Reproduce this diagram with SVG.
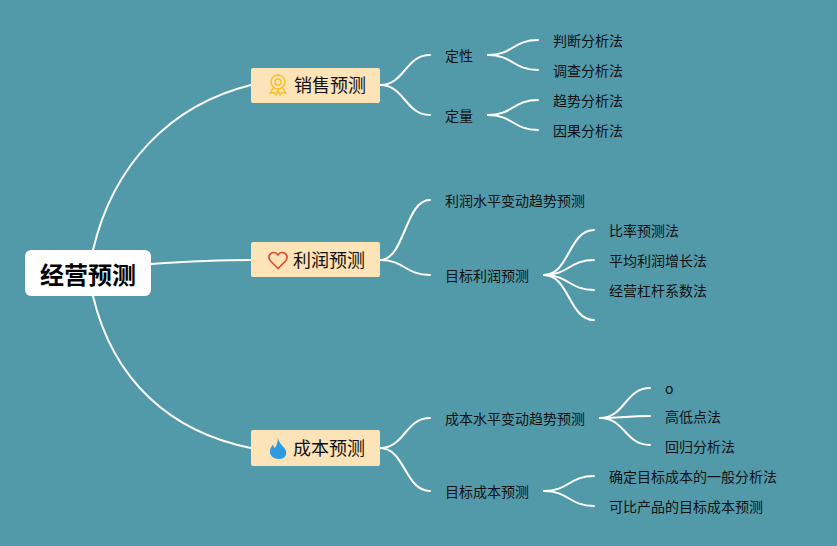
<svg xmlns="http://www.w3.org/2000/svg" width="837" height="546" viewBox="0 0 837 546">
<style>
.c{fill:none;stroke:#fff;stroke-linecap:round}
.m{stroke-width:2}
.s{stroke-width:2}
.b{fill:#fde3b8;stroke:none}
text{font-family:"Noto Sans CJK SC","Noto Sans",sans-serif;fill:#111}
.l{font-size:14px}
.t{font-size:18px}
.r{font-size:24px;font-weight:700;fill:#000}
</style>
<rect width="837" height="546" fill="#529aaa"/>
<g id="connectors">
<path class="c m" d="M93 250C113 165 170 105 251 85"/>
<path class="c m" d="M151 264C180 262 215 260 251 260"/>
<path class="c m" d="M93 296C113 380 170 432 251 448"/>
<path class="c s" d="M380 85C405 85 405 55 430 55"/>
<path class="c s" d="M380 85C405 85 405 115 430 115"/>
<path class="c s" d="M488 55C513 55 513 40 538 40"/>
<path class="c s" d="M488 55C513 55 513 70 538 70"/>
<path class="c s" d="M488 115C513 115 513 100 538 100"/>
<path class="c s" d="M488 115C513 115 513 130 538 130"/>
<path class="c s" d="M380 260C405 260 405 200 430 200"/>
<path class="c s" d="M380 260C405 260 405 275 430 275"/>
<path class="c s" d="M544 275C569 275 569 230 594 230"/>
<path class="c s" d="M544 275C569 275 569 260 594 260"/>
<path class="c s" d="M544 275C569 275 569 290 594 290"/>
<path class="c s" d="M544 275C569 275 569 320 594 320"/>
<path class="c s" d="M380 448C405 448 405 418 430 418"/>
<path class="c s" d="M380 448C405 448 405 491 430 491"/>
<path class="c s" d="M600 418C625 418 625 388 650 388"/>
<path class="c s" d="M600 418C625 418 625 416 650 416"/>
<path class="c s" d="M600 418C625 418 625 445 650 445"/>
<path class="c s" d="M544 491C569 491 569 476 594 476"/>
<path class="c s" d="M544 491C569 491 569 506 594 506"/>
</g>
<g id="root"><rect x="25" y="250" width="126" height="46" rx="6" fill="#fff"/><text class="r" x="88" y="284" text-anchor="middle">经营预测</text></g>
<g id="n-sales"><rect class="b" x="251" y="68" width="129" height="35" rx="2"/>
<g fill="none" stroke="#f7c02e" stroke-width="1.6"><circle cx="278" cy="82" r="7"/><circle cx="278" cy="82" r="3"/><path d="M273 88L270.500 93L274 92.500L276 95L278 90L280 95L282 92.500L285.500 93L283 88"/></g>
<text class="t" x="294" y="92">销售预测</text></g>
<g id="n-profit"><rect class="b" x="251" y="242" width="129" height="35" rx="2"/>
<path d="M278 268.500L270.500 261C267 257 270 252.500 274 252.500C276 252.500 277.300 253.800 278 255C278.700 253.800 280 252.500 282 252.500C286 252.500 289 257 285.500 261Z" fill="none" stroke="#dc4b33" stroke-width="1.7" stroke-linejoin="round"/>
<text class="t" x="293" y="267">利润预测</text></g>
<g id="n-cost"><rect class="b" x="251" y="430" width="129" height="36" rx="2"/>
<path d="M278 438C279 443 282 445 285 449C288 454 285 459 279 459C273 459 269 455 270 450C270.500 447.500 272 446 273 444.500C273.500 446.500 274 447.500 275 448C276.500 445 278 442 278 438Z" fill="#2e9be0"/>
<text class="t" x="293" y="455">成本预测</text></g>
<g id="n1"><text class="l" x="445" y="61">定性</text></g>
<g id="n2"><text class="l" x="445" y="121">定量</text></g>
<g id="n3"><text class="l" x="553" y="46">判断分析法</text></g>
<g id="n4"><text class="l" x="553" y="76">调查分析法</text></g>
<g id="n5"><text class="l" x="553" y="106">趋势分析法</text></g>
<g id="n6"><text class="l" x="553" y="136">因果分析法</text></g>
<g id="n7"><text class="l" x="445" y="206">利润水平变动趋势预测</text></g>
<g id="n8"><text class="l" x="445" y="281">目标利润预测</text></g>
<g id="n9"><text class="l" x="609" y="236">比率预测法</text></g>
<g id="n10"><text class="l" x="609" y="266">平均利润增长法</text></g>
<g id="n11"><text class="l" x="609" y="296">经营杠杆系数法</text></g>
<g id="n12"><text class="l" x="445" y="424">成本水平变动趋势预测</text></g>
<g id="n13"><text class="l" x="445" y="497">目标成本预测</text></g>
<g id="n14"><text class="l" x="665" y="394">o</text></g>
<g id="n15"><text class="l" x="665" y="422">高低点法</text></g>
<g id="n16"><text class="l" x="665" y="452">回归分析法</text></g>
<g id="n17"><text class="l" x="609" y="482">确定目标成本的一般分析法</text></g>
<g id="n18"><text class="l" x="609" y="512">可比产品的目标成本预测</text></g>
</svg>
